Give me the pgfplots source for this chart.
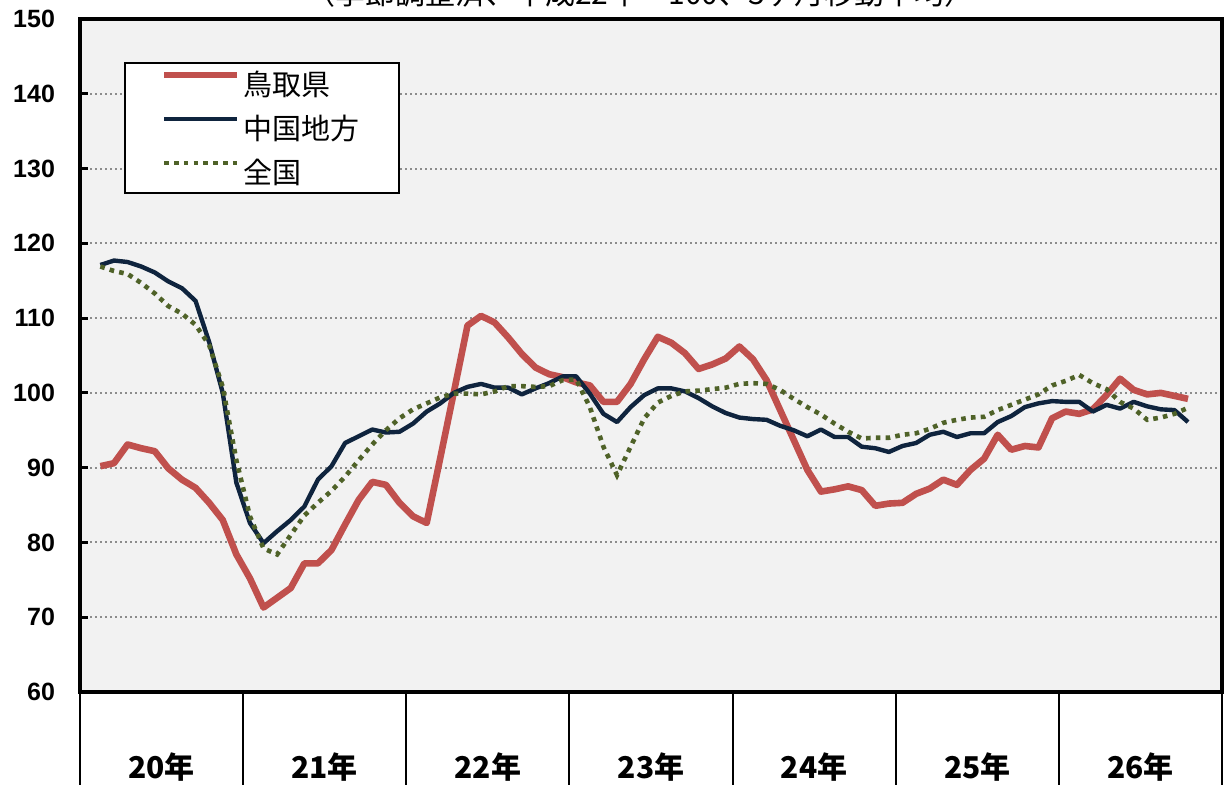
\documentclass[border=0pt]{standalone}
\usepackage{pgfplots}
\pgfplotsset{compat=1.18}
\usepackage{fontspec}
\setmainfont{Liberation Sans}
\newfontfamily\jp{Noto Sans CJK JP}
\definecolor{cred}{HTML}{C0504D}
\definecolor{cnavy}{HTML}{0F243E}
\definecolor{cgreen}{HTML}{4F6228}
\definecolor{bg}{HTML}{F2F2F2}
\definecolor{gridgray}{HTML}{8C8C8C}

\pgfplotstableread{
i red
1 90.2
2 90.6
3 93.1
4 92.6
5 92.2
6 89.9
7 88.4
8 87.3
9 85.3
10 83.0
11 78.4
12 75.2
13 71.3
14 72.6
15 73.9
16 77.2
17 77.2
18 79.0
19 82.4
20 85.7
21 88.1
22 87.7
23 85.3
24 83.5
25 82.6
26 91.3
27 100.1
28 109.0
29 110.3
30 109.4
31 107.4
32 105.2
33 103.4
34 102.5
35 102.1
36 101.4
37 101.0
38 98.8
39 98.8
40 101.2
41 104.5
42 107.5
43 106.7
44 105.3
45 103.2
46 103.8
47 104.6
48 106.2
49 104.5
50 101.7
51 97.7
52 93.7
53 89.7
54 86.8
55 87.1
56 87.5
57 87.0
58 84.9
59 85.2
60 85.3
61 86.5
62 87.2
63 88.4
64 87.7
65 89.7
66 91.2
67 94.4
68 92.4
69 92.9
70 92.7
71 96.6
72 97.5
73 97.2
74 97.8
75 99.7
76 101.9
77 100.4
78 99.8
79 100.0
80 99.6
81 99.2
}\tottori

\pgfplotstableread{
i chugoku
1 117.1
2 117.7
3 117.5
4 116.9
5 116.1
6 114.9
7 114.0
8 112.3
9 106.8
10 100.0
11 88.0
12 82.6
13 79.9
14 81.5
15 83.0
16 84.8
17 88.4
18 90.2
19 93.3
20 94.2
21 95.1
22 94.7
23 94.8
24 95.9
25 97.5
26 98.6
27 100.0
28 100.8
29 101.2
30 100.7
31 100.7
32 99.8
33 100.6
34 101.3
35 102.2
36 102.2
37 99.9
38 97.2
39 96.1
40 98.1
41 99.7
42 100.6
43 100.6
44 100.2
45 99.3
46 98.2
47 97.3
48 96.7
49 96.5
50 96.4
51 95.6
52 95.0
53 94.2
54 95.1
55 94.1
56 94.1
57 92.8
58 92.6
59 92.1
60 92.9
61 93.3
62 94.4
63 94.8
64 94.1
65 94.6
66 94.6
67 96.1
68 96.9
69 98.1
70 98.6
71 98.9
72 98.8
73 98.8
74 97.5
75 98.4
76 97.9
77 98.8
78 98.2
79 97.8
80 97.7
81 96.1
}\chugoku

\pgfplotstableread{
i zenkoku
1 116.9
2 116.3
3 115.9
4 114.7
5 113.3
6 111.6
7 110.6
8 109.1
9 106.4
10 100.8
11 91.0
12 83.5
13 79.2
14 78.4
15 81.0
16 83.6
17 85.3
18 86.9
19 88.8
20 91.0
21 93.1
22 95.0
23 96.6
24 97.8
25 98.6
26 99.4
27 99.9
28 99.9
29 99.8
30 100.2
31 100.9
32 100.9
33 100.8
34 100.9
35 101.7
36 101.8
37 98.1
38 92.8
39 89.0
40 92.8
41 96.6
42 98.7
43 99.6
44 100.2
45 100.3
46 100.5
47 100.7
48 101.2
49 101.3
50 101.2
51 100.4
52 99.2
53 98.1
54 97.1
55 95.9
56 94.8
57 93.9
58 94.0
59 94.0
60 94.4
61 94.6
62 95.2
63 96.0
64 96.4
65 96.7
66 96.8
67 97.7
68 98.4
69 99.1
70 99.8
71 101.0
72 101.6
73 102.4
74 101.3
75 100.5
76 98.8
77 97.9
78 96.4
79 96.7
80 97.2
81 98.0
}\zenkoku

\begin{document}
\begin{tikzpicture}
\begin{axis}[
  scale only axis, width=571pt, height=336.5pt,
  xmin=-0.5, xmax=83.5, ymin=60, ymax=150,
  ytick={60,70,...,150},
  xtick={5.5,17.5,29.5,41.5,53.5,65.5,77.5},
  xticklabels={20年,21年,22年,23年,24年,25年,26年},
  tick pos=left,
  xtick style={draw=none},
  ytick style={line width=1.5pt, black},
  major tick length=4pt,
  tick align=inside,
  ymajorgrids,
  grid style={gridgray, line width=1pt, dash pattern=on 1pt off 1.5pt},
  axis background/.style={fill=bg},
  axis line style={line width=2pt},
  clip mode=individual,
  /pgf/number format/assume math mode=true,
  yticklabel style={font=\bfseries\fontsize{12.5pt}{14pt}\selectfont, xshift=-9pt},
  xticklabel style={font=\jp\bfseries\fontsize{15pt}{17pt}\selectfont, anchor=center, yshift=-37.5pt},
  legend style={at={(0.0385,0.936)}, anchor=north west, draw=black, line width=1pt, fill=white,
    font=\jp\fontsize{14.5pt}{16pt}\selectfont, inner xsep=18pt, inner ysep=2.5pt, row sep=6pt,
    nodes={inner sep=1.5pt, text height=12pt, text depth=1pt}},
  legend cell align=left,
  legend image code/.code={\draw[#1] (0pt,4.5pt) -- (36.5pt,4.5pt);},
]
\addplot[cred, line width=3.3pt, line join=round] table[x=i, y=red] {\tottori};
\addlegendentry{鳥取県}
\addplot[cnavy, line width=2.2pt, line join=round] table[x=i, y=chugoku] {\chugoku};
\addlegendentry{中国地方}
\addplot[cgreen, line width=2.3pt, dash pattern=on 2.3pt off 2.6pt] table[x=i, y=zenkoku] {\zenkoku};
\addlegendentry{全国}
\pgfplotsinvokeforeach{-0.5,11.5,23.5,35.5,47.5,59.5,71.5,83.5}{
  \draw[line width=1pt] (axis cs:#1,60) -- ([yshift=-50pt]axis cs:#1,60);
}
\node[anchor=base, font=\jp\fontsize{15pt}{17pt}\selectfont] at ([xshift=-5.5pt,yshift=7.3pt]rel axis cs:0.5,1) {（季節調整済、平成22年＝100、3ヶ月移動平均）};
\coordinate (ll) at (rel axis cs:0,0);
\coordinate (ur) at (rel axis cs:1,1);
\end{axis}
\pgfresetboundingbox
\path[use as bounding box] ([xshift=-40pt,yshift=-46pt]ll) rectangle ([xshift=1pt,yshift=9.5pt]ur);
\end{tikzpicture}
\end{document}
